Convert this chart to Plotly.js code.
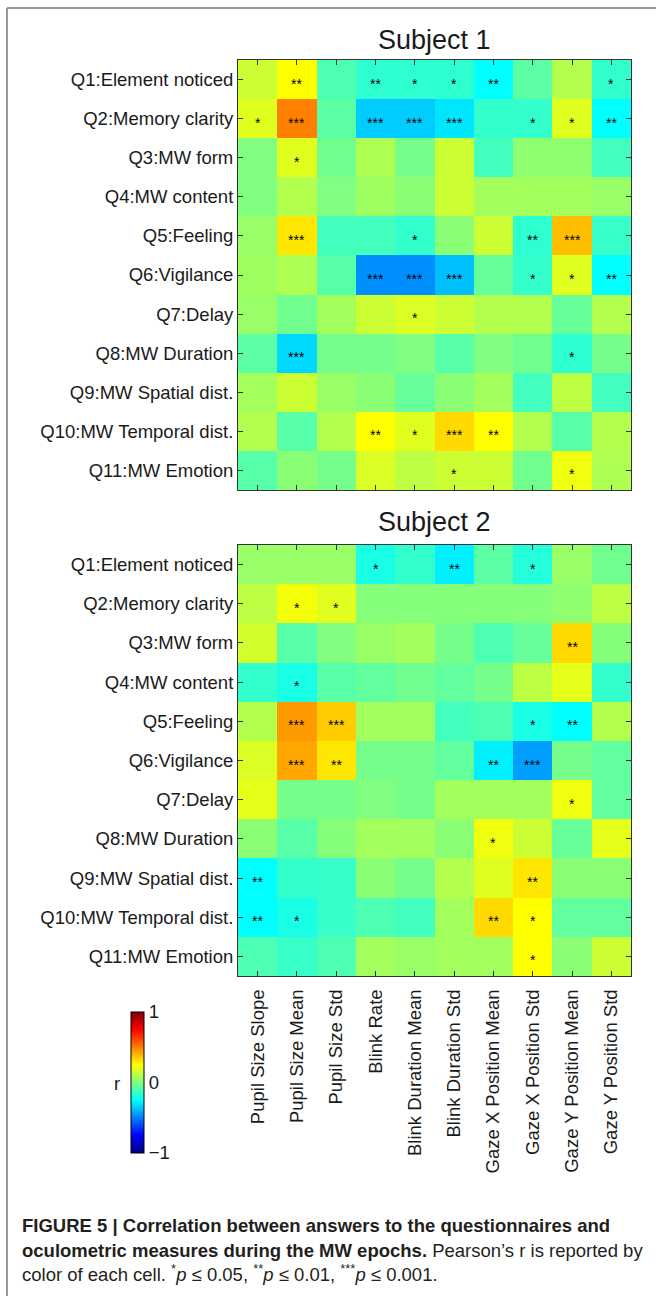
<!DOCTYPE html>
<html>
<head>
<meta charset="utf-8">
<script src="https://cdn.plot.ly/plotly-3.0.1.min.js"></script>
<style>
html,body{margin:0;padding:0;background:#fff;}
#chart{width:656px;height:1296px;}
</style>
</head>
<body>
<div id="chart"></div>
<script>
const questions = ['Q1:Element noticed','Q2:Memory clarity','Q3:MW form','Q4:MW content','Q5:Feeling','Q6:Vigilance','Q7:Delay','Q8:MW Duration','Q9:MW Spatial dist.','Q10:MW Temporal dist.','Q11:MW Emotion'];
const measures = ['Pupil Size Slope','Pupil Size Mean','Pupil Size Std','Blink Rate','Blink Duration Mean','Blink Duration Std','Gaze X Position Mean','Gaze X Position Std','Gaze Y Position Mean','Gaze Y Position Std'];

const r1 = [
  [0.15, 0.25, -0.10, -0.16, -0.16, -0.16, -0.25, -0.07, 0.10, -0.15],
  [0.19, 0.50, -0.07, -0.35, -0.35, -0.30, -0.15, -0.15, 0.19, -0.25],
  [0.00, 0.19, -0.03, 0.09, -0.02, 0.15, -0.12, 0.03, 0.03, -0.12],
  [0.00, 0.10, 0.00, 0.06, 0.02, 0.15, 0.07, 0.07, 0.07, 0.05],
  [0.05, 0.30, -0.12, -0.12, -0.15, 0.02, 0.15, -0.16, 0.375, -0.14],
  [0.06, 0.09, -0.08, -0.47, -0.47, -0.375, -0.05, -0.15, 0.19, -0.25],
  [0.05, -0.03, 0.07, 0.15, 0.18, 0.15, 0.10, 0.10, -0.05, 0.10],
  [-0.07, -0.325, -0.02, -0.02, 0.00, -0.08, 0.00, -0.03, -0.16, -0.02],
  [0.07, 0.15, 0.05, 0.02, -0.05, 0.02, 0.07, -0.12, 0.12, -0.12],
  [0.10, -0.08, 0.10, 0.25, 0.19, 0.325, 0.25, 0.10, -0.08, 0.10],
  [-0.08, 0.02, -0.02, 0.18, 0.12, 0.15, 0.15, -0.03, 0.22, 0.09]
];
const stars1 = [
  ['', '**', '', '**', '*', '*', '**', '', '', '*'],
  ['*', '***', '', '***', '***', '***', '', '*', '*', '**'],
  ['', '*', '', '', '', '', '', '', '', ''],
  ['', '', '', '', '', '', '', '', '', ''],
  ['', '***', '', '', '*', '', '', '**', '***', ''],
  ['', '', '', '***', '***', '***', '', '*', '*', '**'],
  ['', '', '', '', '*', '', '', '', '', ''],
  ['', '***', '', '', '', '', '', '', '*', ''],
  ['', '', '', '', '', '', '', '', '', ''],
  ['', '', '', '**', '*', '***', '**', '', '', ''],
  ['', '', '', '', '', '*', '', '', '*', '']
];
const r2 = [
  [0.05, 0.05, 0.05, -0.20, -0.15, -0.28, -0.07, -0.18, 0.05, -0.03],
  [0.12, 0.23, 0.19, 0.01, 0.01, 0.01, 0.01, 0.01, 0.03, 0.12],
  [0.16, -0.08, 0.00, 0.05, 0.07, -0.02, -0.10, -0.05, 0.325, 0.01],
  [-0.15, -0.20, -0.08, -0.06, -0.03, -0.06, -0.02, 0.12, 0.20, -0.15],
  [0.10, 0.45, 0.35, 0.07, 0.07, -0.12, -0.10, -0.20, -0.25, 0.10],
  [0.18, 0.425, 0.30, -0.02, -0.02, -0.06, -0.28, -0.44, -0.02, -0.06],
  [0.20, -0.02, -0.02, 0.00, -0.02, 0.07, 0.07, 0.07, 0.22, -0.06],
  [0.02, -0.08, 0.01, 0.07, 0.07, 0.02, 0.22, 0.15, -0.05, 0.20],
  [-0.25, -0.15, -0.14, 0.02, -0.02, 0.10, 0.19, 0.30, 0.02, 0.02],
  [-0.25, -0.20, -0.14, -0.10, -0.12, 0.07, 0.325, 0.25, -0.06, -0.06],
  [-0.10, -0.14, -0.10, 0.07, 0.05, 0.07, 0.07, 0.25, 0.02, 0.15]
];
const stars2 = [
  ['', '', '', '*', '', '**', '', '*', '', ''],
  ['', '*', '*', '', '', '', '', '', '', ''],
  ['', '', '', '', '', '', '', '', '**', ''],
  ['', '*', '', '', '', '', '', '', '', ''],
  ['', '***', '***', '', '', '', '', '*', '**', ''],
  ['', '***', '**', '', '', '', '**', '***', '', ''],
  ['', '', '', '', '', '', '', '', '*', ''],
  ['', '', '', '', '', '', '*', '', '', ''],
  ['**', '', '', '', '', '', '', '**', '', ''],
  ['**', '*', '', '', '', '', '**', '*', '', ''],
  ['', '', '', '', '', '', '', '*', '', '']
];
const titles = ['Subject 1', 'Subject 2'];
const cbTicks = [-1, 0, 1];
const cbTickText = ['\u22121', '0', '1'];

const W = 656, H = 1296;
const px = v => v / W;
const py = v => 1 - v / H;

const jet = [
  [0, 'rgb(0,0,128)'], [0.125, 'rgb(0,0,255)'], [0.375, 'rgb(0,255,255)'],
  [0.625, 'rgb(255,255,0)'], [0.875, 'rgb(255,0,0)'], [1, 'rgb(128,0,0)']
];

const traces = [
  {type: 'heatmap', x: measures, y: questions, z: r1, coloraxis: 'coloraxis', xaxis: 'x', yaxis: 'y', hoverinfo: 'skip'},
  {type: 'heatmap', x: measures, y: questions, z: r2, coloraxis: 'coloraxis', xaxis: 'x2', yaxis: 'y2', hoverinfo: 'skip'}
];

const FONT = 'Liberation Sans, Arial, sans-serif';
const annotations = [];
[[stars1, 'x', 'y'], [stars2, 'x2', 'y2']].forEach(([st, xr, yr]) => {
  st.forEach((row, i) => row.forEach((s, j) => {
    if (!s) return;
    annotations.push({xref: xr, yref: yr, x: measures[j], y: questions[i], text: s, showarrow: false,
      font: {family: FONT, size: 14, color: '#000'}, yshift: -4});
  }));
});

const lab = {family: FONT, color: '#1a1a1a'};
annotations.push({xref: 'paper', yref: 'paper', x: px(434), y: py(40), text: titles[0], showarrow: false,
  xanchor: 'center', yanchor: 'middle', font: Object.assign({size: 27}, lab)});
annotations.push({xref: 'paper', yref: 'paper', x: px(434), y: py(522), text: titles[1], showarrow: false,
  xanchor: 'center', yanchor: 'middle', font: Object.assign({size: 27}, lab)});
annotations.push({xref: 'paper', yref: 'paper', x: px(117), y: py(1083), text: 'r', showarrow: false,
  xanchor: 'center', yanchor: 'middle', font: Object.assign({size: 18.5}, lab)});

const capFont = {family: FONT, size: 18.5, color: '#231f20'};
const capLines = [
  '<b>FIGURE 5 | Correlation between answers to the questionnaires and</b>',
  '<b>oculometric measures during the MW epochs.</b> Pearson\u2019s r is reported by',
  'color of each cell. <sup>*</sup><i>p</i> \u2264 0.05, <sup>**</sup><i>p</i> \u2264 0.01, <sup>***</sup><i>p</i> \u2264 0.001.'
];
const capY = [1225, 1250, 1273];
capLines.forEach((t, k) => annotations.push({xref: 'paper', yref: 'paper', x: px(20), y: py(capY[k]), text: t,
  showarrow: false, xanchor: 'left', yanchor: 'middle', align: 'left', font: capFont}));

const axCommon = {
  type: 'category', ticks: 'inside', ticklen: 5, tickwidth: 1, tickcolor: '#333',
  showline: true, linecolor: '#333', linewidth: 1, mirror: 'ticks', showgrid: false, zeroline: false,
  tickfont: {family: FONT, size: 18.5, color: '#1a1a1a'}
};

const layout = {
  width: W, height: H, margin: {l: 0, r: 0, t: 0, b: 0},
  paper_bgcolor: '#fff', plot_bgcolor: '#fff', showlegend: false,
  xaxis: Object.assign({}, axCommon, {domain: [px(238), px(631)], anchor: 'y', showticklabels: false}),
  yaxis: Object.assign({}, axCommon, {domain: [py(490), py(60)], anchor: 'x', autorange: 'reversed'}),
  xaxis2: Object.assign({}, axCommon, {domain: [px(238), px(631)], anchor: 'y2', tickangle: -90, ticklabelstandoff: 5}),
  yaxis2: Object.assign({}, axCommon, {domain: [py(976), py(545)], anchor: 'x2', autorange: 'reversed'}),
  coloraxis: {
    colorscale: jet, cmin: -1, cmax: 1,
    colorbar: {
      x: px(131), xanchor: 'left', xpad: 0, ypad: 0,
      y: py(1082.5), yanchor: 'middle', len: 141 / H, lenmode: 'fraction',
      thickness: 13, thicknessmode: 'pixels',
      tickvals: cbTicks, ticktext: cbTickText, ticks: '', ticklabelposition: 'outside',
      outlinewidth: 1, outlinecolor: '#000',
      tickfont: {family: FONT, size: 18.5, color: '#1a1a1a'}
    }
  },
  annotations: annotations,
  shapes: [
    {type: 'line', xref: 'paper', yref: 'paper', x0: px(7), x1: px(7), y0: 0, y1: py(8), line: {color: '#777', width: 1.5}},
    {type: 'line', xref: 'paper', yref: 'paper', x0: px(7), x1: 1, y0: py(8), y1: py(8), line: {color: '#777', width: 1.5}}
  ]
};

Plotly.newPlot('chart', traces, layout, {displayModeBar: false, staticPlot: true});
</script>
</body>
</html>
